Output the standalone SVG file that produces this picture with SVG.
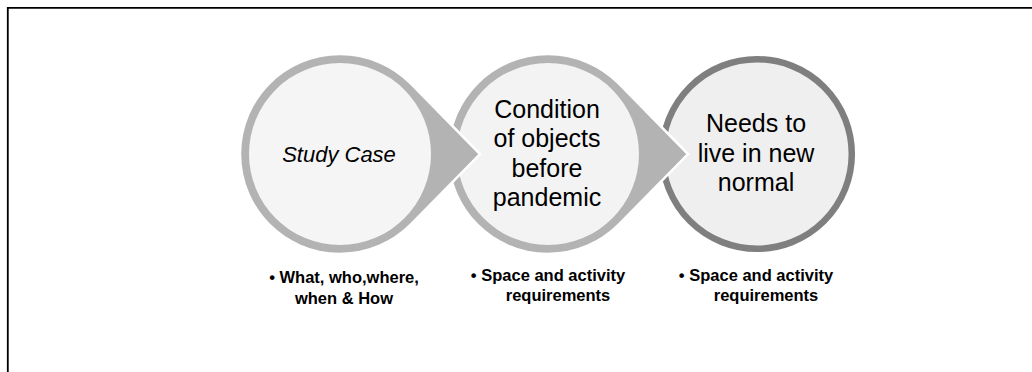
<svg xmlns="http://www.w3.org/2000/svg" width="1032" height="372" viewBox="0 0 1032 372">
<style>
.tear{fill:#b3b3b3;stroke:#ffffff;stroke-width:2.5;stroke-linejoin:miter}
.ct{font-family:"Liberation Sans",Arial,sans-serif;font-size:25px;fill:#000;text-anchor:middle}
.lb{font-family:"Liberation Sans",Arial,sans-serif;font-size:16.5px;font-weight:bold;fill:#000;text-anchor:middle}
</style>
<rect x="0" y="0" width="1032" height="372" fill="#ffffff"/>
<path d="M7.8,372 V7.8 H1032" fill="none" stroke="#000" stroke-width="1.8"/>
<g id="connectors"></g>
<g id="node3">
  <circle cx="757" cy="154" r="94.8" fill="#efefef" stroke="#7f7f7f" stroke-width="6.5"/>
  <text class="ct" x="756" y="132">Needs to</text>
  <text class="ct" x="756" y="161.5">live in new</text>
  <text class="ct" x="756" y="190.5">normal</text>
</g>
<g id="node2">
  <path class="tear" d="M618.7,83.3 L688,154 L618.7,224.7 A100,100 0 1,1 618.7,83.3 Z"/>
  <circle cx="548" cy="154" r="91" fill="#f3f3f3"/>
  <text class="ct" x="547" y="118">Condition</text>
  <text class="ct" x="547" y="147.3">of objects</text>
  <text class="ct" x="547" y="176.6">before</text>
  <text class="ct" x="547" y="206">pandemic</text>
</g>
<g id="node1">
  <path class="tear" d="M410.7,83.3 L480,154 L410.7,224.7 A100,100 0 1,1 410.7,83.3 Z"/>
  <circle cx="340" cy="154" r="91" fill="#f5f5f5"/>
  <text class="ct" x="339" y="162" style="font-size:22px;font-style:italic">Study Case</text>
</g>
<g id="label1">
  <text class="lb" x="344" y="282.5">• What, who,where,</text>
  <text class="lb" x="344" y="303.5">when &amp; How</text>
</g>
<g id="label2">
  <text class="lb" x="548" y="280.5">• Space and activity</text>
  <text class="lb" x="558" y="300.5">requirements</text>
</g>
<g id="label3">
  <text class="lb" x="756" y="280.5">• Space and activity</text>
  <text class="lb" x="766" y="300.5">requirements</text>
</g>
</svg>
